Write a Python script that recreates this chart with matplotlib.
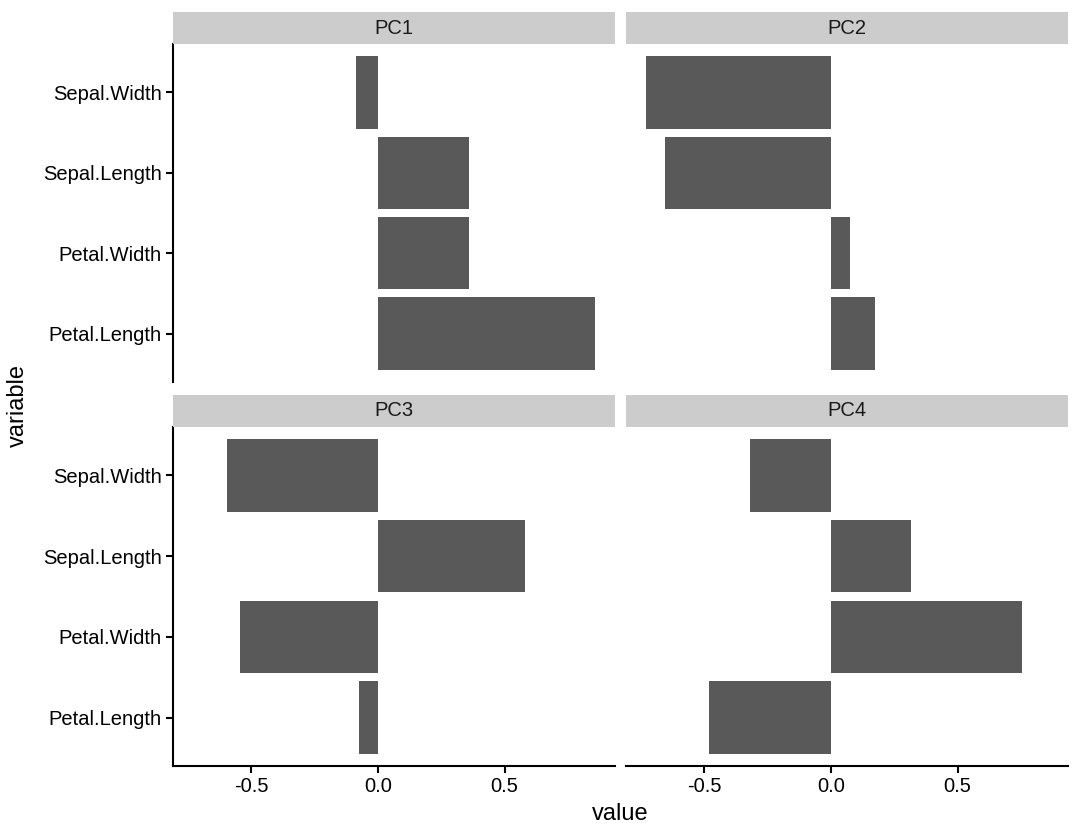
import matplotlib
matplotlib.use("Agg")
import matplotlib.pyplot as plt

plt.rcParams['font.family'] = ['Liberation Sans', 'DejaVu Sans']

variables = ["Petal.Length", "Petal.Width", "Sepal.Length", "Sepal.Width"]
components = ["PC1", "PC2", "PC3", "PC4"]
pc1 = [0.857, 0.358, 0.361, -0.085]
pc2 = [0.173, 0.075, -0.657, -0.730]
pc3 = [-0.076, -0.546, 0.582, -0.598]
pc4 = [-0.480, 0.754, 0.315, -0.320]
values = [pc1, pc2, pc3, pc4]
xticks = [-0.5, 0.0, 0.5]
xticklabels = ["-0.5", "0.0", "0.5"]

W, H = 1080, 840
fig = plt.figure(figsize=(W / 100, H / 100), dpi=100)

def fx(px):
    return px / W

def fy(py):
    return 1 - py / H

cols = [(173, 615), (626, 1068)]
rows = [(12, 44, 382), (395, 427, 766)]  # strip top, panel top, panel bottom

allv = [v for s in values for v in s]
lo, hi = min(allv + [0]), max(allv + [0])
pad = (hi - lo) * 0.05
xlim = (lo - pad, hi + pad)
ylim = (-0.6, len(variables) - 1 + 0.6)

bar_color = "#595959"
lw = 1.5
tick_fs = 14.5

for i, comp in enumerate(components):
    r, c = divmod(i, 2)
    x0, x1 = cols[c]
    st, pt, pb = rows[r]
    ax = fig.add_axes([fx(x0), fy(pb), fx(x1 - x0), (pb - pt) / H])
    ax.barh(range(len(variables)), values[i], height=0.9, color=bar_color, linewidth=0)
    ax.set_xlim(*xlim)
    ax.set_ylim(*ylim)
    for s in ["top", "right"]:
        ax.spines[s].set_visible(False)
    ax.spines["left"].set_linewidth(lw)
    ax.spines["bottom"].set_linewidth(lw)
    if c == 0:
        ax.set_yticks(range(len(variables)))
        ax.set_yticklabels(variables)
        ax.tick_params(axis="y", length=5, width=lw, labelsize=tick_fs, colors="black", pad=3)
    else:
        ax.spines["left"].set_visible(False)
        ax.set_yticks([])
    if r == 1:
        ax.set_xticks(xticks)
        ax.set_xticklabels(xticklabels)
        ax.tick_params(axis="x", length=5, width=lw, labelsize=tick_fs, colors="black", pad=3)
    else:
        ax.spines["bottom"].set_visible(False)
        ax.set_xticks([])
    sax = fig.add_axes([fx(x0), fy(pt), fx(x1 - x0), (pt - st) / H])
    sax.set_facecolor("#CCCCCC")
    sax.set_xticks([])
    sax.set_yticks([])
    for s in sax.spines.values():
        s.set_visible(False)
    sax.text(0.5, 0.5, comp, ha="center", va="center", fontsize=tick_fs, color="#1A1A1A",
             transform=sax.transAxes)

fig.text(fx(620), fy(814), "value", ha="center", va="center", fontsize=17)
fig.text(fx(18), fy(405), "variable", ha="center", va="center", rotation=90, fontsize=17)

fig.savefig("out.png", dpi=100)
